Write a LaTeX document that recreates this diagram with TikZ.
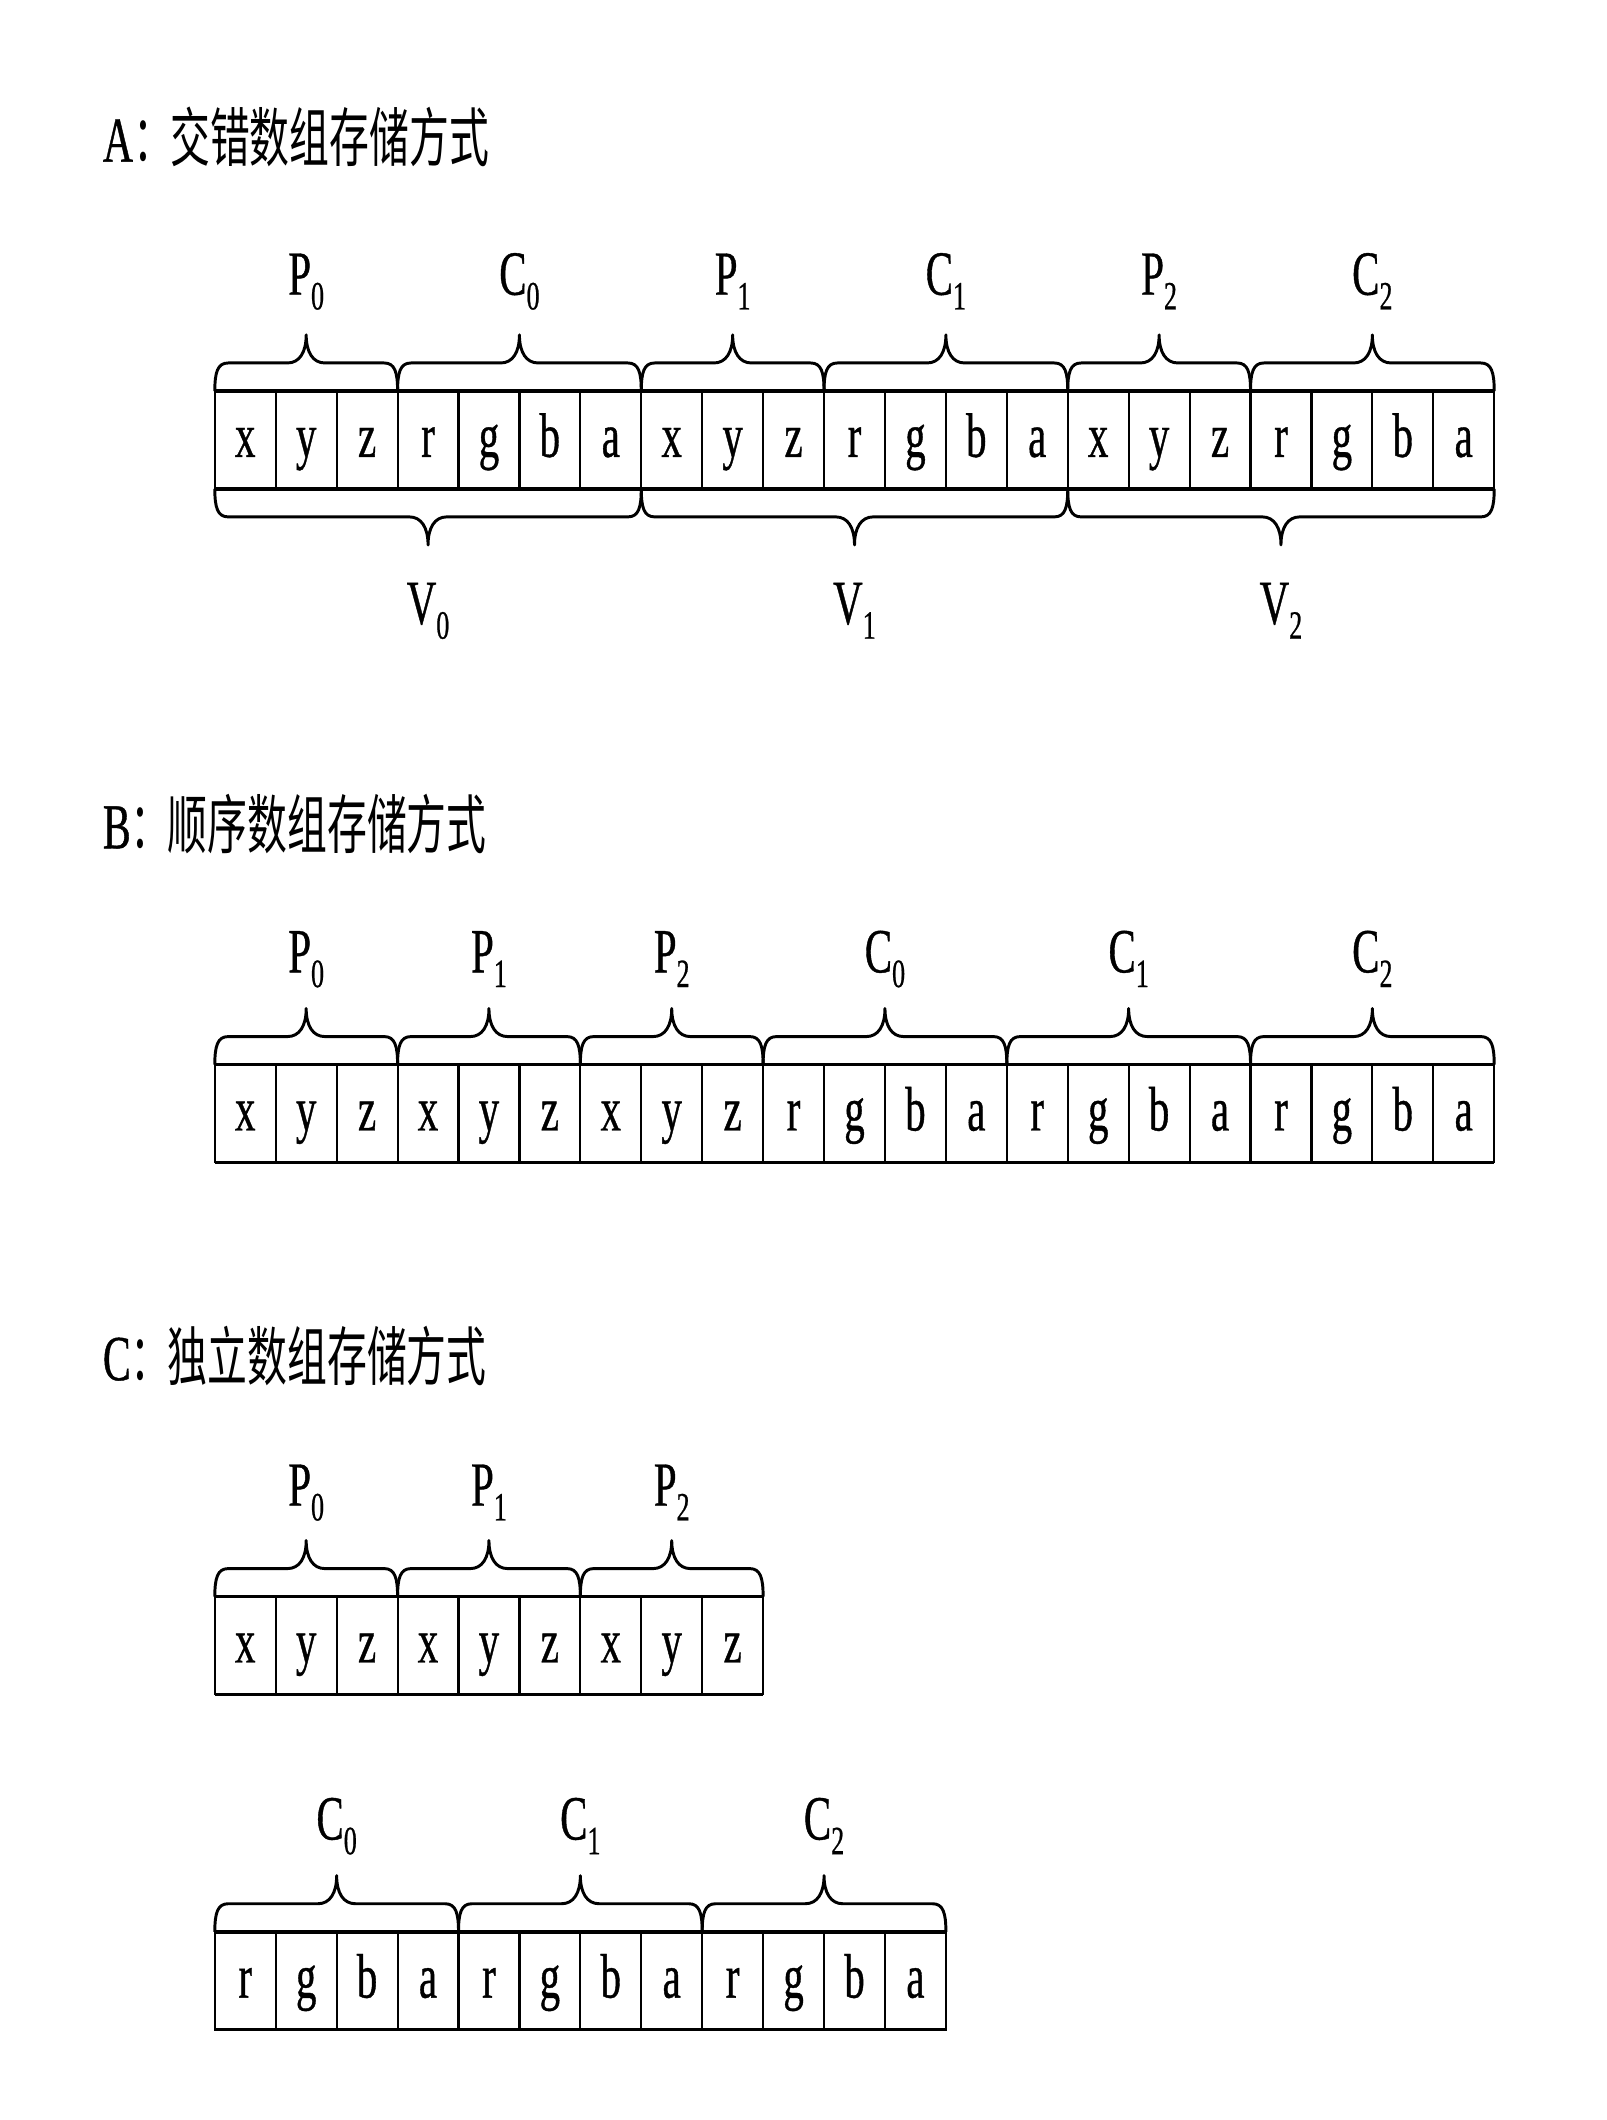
\documentclass[tikz,border=0pt]{standalone}
\usepackage{fontspec}
\setmainfont[FakeStretch=0.65,FakeBold=0.6]{Liberation Serif}
\newfontfamily\cjk[FakeStretch=0.62]{Noto Sans CJK SC}
\usetikzlibrary{calc}
\newcommand\lsub[1]{\raisebox{-11pt}{\fontsize{30}{32}\selectfont #1}}
\tikzset{
  cell/.style={draw, line width=1.6pt, minimum width=45.52pt, minimum height=73pt,
    inner sep=0pt, outer sep=0pt, anchor=north west, text height=34pt, text depth=8.7pt,
    font=\fontsize{47}{50}\selectfont},
  rowline/.style={line width=2.6pt},
  mybrace/.style={line width=2.2pt, line join=round, to path={
    let \p1=(\tikztostart), \p2=(\tikztotarget),
        \p3=($(\tikztostart)!0.5!(\tikztotarget)$) in
    (\p1) .. controls (\x1,\y1+#1*14pt) and (\x1+2pt,\y1+#1*21pt) .. (\x1+10pt,\y1+#1*21pt)
    -- (\x3-14pt,\y1+#1*21pt)
    .. controls (\x3-5pt,\y1+#1*21pt) and (\x3,\y1+#1*29pt) .. (\x3,\y1+#1*42pt)
    .. controls (\x3,\y1+#1*29pt) and (\x3+5pt,\y1+#1*21pt) .. (\x3+14pt,\y1+#1*21pt)
    -- (\x2-10pt,\y1+#1*21pt)
    .. controls (\x2-2pt,\y1+#1*21pt) and (\x2,\y1+#1*14pt) .. (\p2)}},
  lbl/.style={font=\fontsize{47}{50}\selectfont, inner sep=0pt, anchor=base},
  ttl/.style={font=\fontsize{48}{50}\selectfont, inner sep=0pt, anchor=base west}
}
\begin{document}
\begin{tikzpicture}[x=1pt,y=-1pt]
\useasboundingbox (0,0) rectangle (1200,1584);
% ---------- A ----------
\node[ttl] (tA) at (76.7,120.8) {A{\cjk ：\hspace{-2pt}交错数组存储方式}};
\foreach \l [count=\i from 0] in {x,y,z,r,g,b,a,x,y,z,r,g,b,a,x,y,z,r,g,b,a}
  \node[cell] (A\i) at (160.5+\i*45.52,292.2) {\l};
\draw[rowline] (A0.north west) -- (A20.north east);
\draw[rowline] (A0.south west) -- (A20.south east);
\foreach \s/\e/\L/\n in {0/2/P/0,3/6/C/0,7/9/P/1,10/13/C/1,14/16/P/2,17/20/C/2}{
  \draw[mybrace=1] (A\s.north west) to (A\e.north east);
  \node[lbl] (A\L\n) at ($(A\s.north west)!0.5!(A\e.north east)+(0,-72)$) {\L\lsub{\n}};
}
\foreach \s/\e/\n in {0/6/0,7/13/1,14/20/2}{
  \draw[mybrace=-1] (A\s.south west) to (A\e.south east);
  \node[lbl] (AV\n) at ($(A\s.south west)!0.5!(A\e.south east)+(0,101)$) {V\lsub{\n}};
}
% ---------- B ----------
\node[ttl] (tB) at (76.7,633.9) {B{\cjk ：\hspace{-2pt}顺序数组存储方式}};
\foreach \l [count=\i from 0] in {x,y,z,x,y,z,x,y,z,r,g,b,a,r,g,b,a,r,g,b,a}
  \node[cell] (B\i) at (160.5+\i*45.52,795.5) {\l};
\draw[rowline] (B0.north west) -- (B20.north east);
\draw[rowline] (B0.south west) -- (B20.south east);
\foreach \s/\e/\L/\n in {0/2/P/0,3/5/P/1,6/8/P/2,9/12/C/0,13/16/C/1,17/20/C/2}{
  \draw[mybrace=1] (B\s.north west) to (B\e.north east);
  \node[lbl] (B\L\n) at ($(B\s.north west)!0.5!(B\e.north east)+(0,-69)$) {\L\lsub{\n}};
}
% ---------- C ----------
\node[ttl] (tC) at (76.7,1031.2) {C{\cjk ：\hspace{-2pt}独立数组存储方式}};
\foreach \l [count=\i from 0] in {x,y,z,x,y,z,x,y,z}
  \node[cell] (P\i) at (160.5+\i*45.52,1193) {\l};
\draw[rowline] (P0.north west) -- (P8.north east);
\draw[rowline] (P0.south west) -- (P8.south east);
\foreach \s/\e/\n in {0/2/0,3/5/1,6/8/2}{
  \draw[mybrace=1] (P\s.north west) to (P\e.north east);
  \node[lbl] (CP\n) at ($(P\s.north west)!0.5!(P\e.north east)+(0,-68)$) {P\lsub{\n}};
}
\foreach \l [count=\i from 0] in {r,g,b,a,r,g,b,a,r,g,b,a}
  \node[cell] (Q\i) at (160.5+\i*45.52,1443.4) {\l};
\draw[rowline] (Q0.north west) -- (Q11.north east);
\draw[rowline] (Q0.south west) -- (Q11.south east);
\foreach \s/\e/\n in {0/3/0,4/7/1,8/11/2}{
  \draw[mybrace=1] (Q\s.north west) to (Q\e.north east);
  \node[lbl] (CC\n) at ($(Q\s.north west)!0.5!(Q\e.north east)+(0,-69)$) {C\lsub{\n}};
}
\end{tikzpicture}
\end{document}
